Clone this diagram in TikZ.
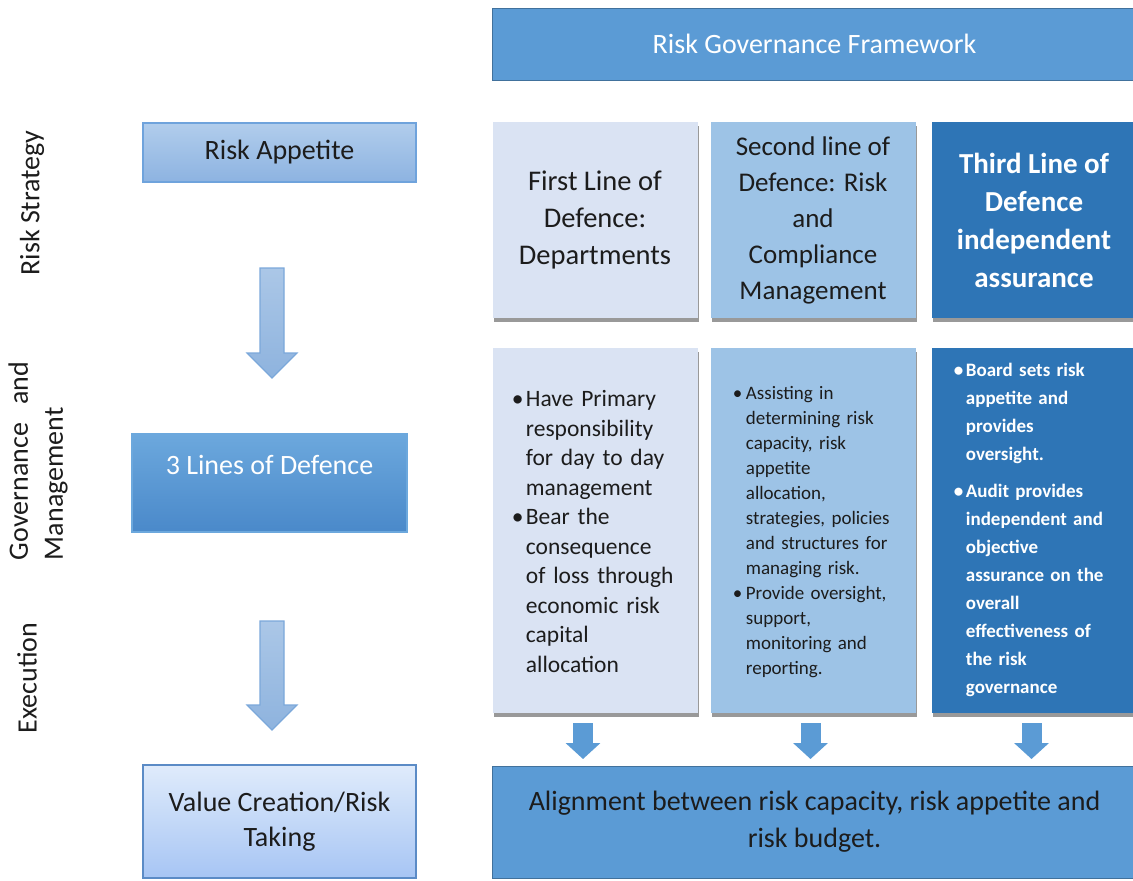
\documentclass[tikz,border=0pt]{standalone}
\usepackage{fontspec}
\setmainfont{Carlito}
\usepackage{xcolor}
\usepackage{tikz}
\usetikzlibrary{positioning, arrows.meta, shadows}

\definecolor{accent}{HTML}{5B9BD5}
\definecolor{accentdark}{HTML}{41719C}
\definecolor{lineone}{HTML}{DAE3F3}
\definecolor{linetwo}{HTML}{9DC3E6}
\definecolor{linethree}{HTML}{2E75B6}
\definecolor{inkdark}{HTML}{1C1C1C}
\definecolor{appetop}{HTML}{B1CDEC}
\definecolor{appebot}{HTML}{8DB3E1}
\definecolor{appeedge}{HTML}{6FA3DC}
\definecolor{deftop}{HTML}{6CA8DD}
\definecolor{defbot}{HTML}{4A89CA}
\definecolor{valtop}{HTML}{DFEBFB}
\definecolor{valbot}{HTML}{A7C5F4}
\definecolor{valedge}{HTML}{5B8BC6}
\definecolor{arrowtop}{HTML}{ABC7E7}
\definecolor{arrowbot}{HTML}{8EB3DE}
\definecolor{arrowedge}{HTML}{7BA8DA}

% one bullet paragraph with hanging indent
\newcommand{\bul}[2][7pt]{\par\hangindent=#1\hangafter=1\noindent\hbox to #1{\textbullet\hfil}#2\par}

% block arrow: centre x, top y, tip y
\newcommand{\blockarrow}[3]{%
  \path[bigarrow] (#1-12,#2) -- (#1+12,#2) -- (#1+12,#3-25) -- (#1+25,#3-25)
    -- (#1,#3) -- (#1-25,#3-25) -- (#1-12,#3-25) -- cycle;}

\begin{document}
\begin{tikzpicture}[x=0.5pt, y=-0.5pt,
  band/.style={rectangle, draw=accentdark, line width=0.5pt, fill=accent, minimum width=322pt, inner sep=0pt, outer sep=0pt, align=center, font=\fontsize{14}{18.5}\selectfont},
  linebox/.style={rectangle, minimum width=102.5pt, inner sep=0pt, outer sep=0pt, align=center, drop shadow={shadow xshift=0.8pt, shadow yshift=-1.8pt, fill=black, opacity=0.4}},
  headbox/.style={linebox, minimum height=98pt},
  bodybox/.style={linebox, minimum height=182.5pt},
  stepbox/.style={rectangle, minimum width=136.5pt, line width=0.7pt, inner sep=0pt, outer sep=0pt, align=center, font=\fontsize{14}{17.5}\selectfont},
  bullets/.style={anchor=north west, inner sep=0pt, align=left},
  sidelabel/.style={rotate=90, font=\fontsize{14}{17.5}\selectfont, text=inkdark},
  bigarrow/.style={draw=arrowedge, line width=0.6pt, top color=arrowtop, bottom color=arrowbot},
  smallarrow/.style={draw=accent, line width=10pt, -{Triangle[width=17pt, length=8pt]}, shorten <=5pt, shorten >=3.5pt}
]
  \useasboundingbox (0,0) rectangle (1133,880);

  % left column
  \node[stepbox, anchor=north west, minimum height=29.5pt, draw=appeedge, top color=appetop, bottom color=appebot, text=inkdark] (appetite) at (143,123) {Risk Appetite};
  \node[stepbox, anchor=north west, minimum width=137.5pt, minimum height=49pt, draw=deftop, top color=deftop, bottom color=defbot] (lines) at (132,434) {};
  \node[font=\fontsize{14}{17.5}\selectfont, text=white] (linestext) at ([yshift=-15.5pt]lines.north) {3 Lines of Defence};
  \node[stepbox, anchor=north west, minimum height=56.5pt, draw=valedge, top color=valtop, bottom color=valbot, text=inkdark] (value) at (143,765) {Value Creation/Risk\\Taking};

  \blockarrow{272}{268}{378}
  \blockarrow{272}{621}{730}

  \node[sidelabel] (strategy) at (32,203) {Risk Strategy};
  \node[sidelabel, align=left] (governance) at (38,461) {\hbox to 99pt{Governance\hfil and}\\Management};
  \node[sidelabel] (execution) at (27,678) {Execution};

  % framework and the three lines
  \node[band, anchor=north west, minimum height=36pt, text=white] (frame) at (492.5,8) {Risk Governance Framework};

  \node[headbox, fill=lineone, text=inkdark, font=\fontsize{14.25}{18.5}\selectfont, below right=21pt and 0pt of frame.south west] (head1) {First Line of\\Defence:\\Departments};
  \node[headbox, fill=linetwo, text=inkdark, font=\fontsize{13.5}{18}\selectfont, right=6.5pt of head1] (head2) {Second line of\\Defence: Risk\\and\\Compliance\\Management};
  \node[headbox, fill=linethree, text=white, font=\bfseries\fontsize{14.5}{19}\selectfont, right=8pt of head2] (head3) {Third Line of\\Defence\\independent\\assurance};

  \node[bodybox, fill=lineone, below=15pt of head1] (body1) {};
  \node[bodybox, fill=linetwo, below=15pt of head2] (body2) {};
  \node[bodybox, fill=linethree, below=15pt of head3] (body3) {};

  \node[bullets, text width=85pt, text=inkdark, font=\fontsize{11.75}{14.75}\selectfont] (points1) at ([xshift=9.5pt, yshift=-14.5pt]body1.north west) {%
    \bul{Have Primary\newline responsibility\newline for day to day\newline management}%
    \bul{Bear the\newline consequence\newline of loss through\newline economic risk\newline capital\newline allocation}};
  \node[bullets, text width=88pt, text=inkdark, font=\fontsize{9.5}{12.5}\selectfont] (points2) at ([xshift=11pt, yshift=-13pt]body2.north west) {%
    \bul[6.5pt]{Assisting in\newline determining risk\newline capacity, risk\newline appetite\newline allocation,\newline strategies, policies\newline and structures for\newline managing risk.}%
    \bul[6.5pt]{Provide oversight,\newline support,\newline monitoring and\newline reporting.}};
  \node[bullets, text width=85pt, text=white, font=\bfseries\fontsize{9.5}{14}\selectfont] (points3) at ([xshift=11pt, yshift=0pt]body3.north west) {%
    \bul[6pt]{Board sets risk\newline appetite and\newline provides\newline oversight.}%
    \vspace{4.5pt}%
    \bul[6pt]{Audit provides\newline independent and\newline objective\newline assurance on the\newline overall\newline effectiveness of\newline the risk\newline governance}};

  \node[band, minimum height=56pt, text=inkdark, below right=26.5pt and 0pt of body1.south west] (bottom) {Alignment between risk capacity, risk appetite and\\risk budget.};

  \foreach \col/\dx in {1/-6pt, 2/-1.25pt, 3/-1.25pt} {
    \coordinate (drop\col) at ([xshift=\dx]body\col.south);
    \draw[smallarrow] (drop\col) -- (drop\col |- bottom.north);
  }
\end{tikzpicture}
\end{document}
